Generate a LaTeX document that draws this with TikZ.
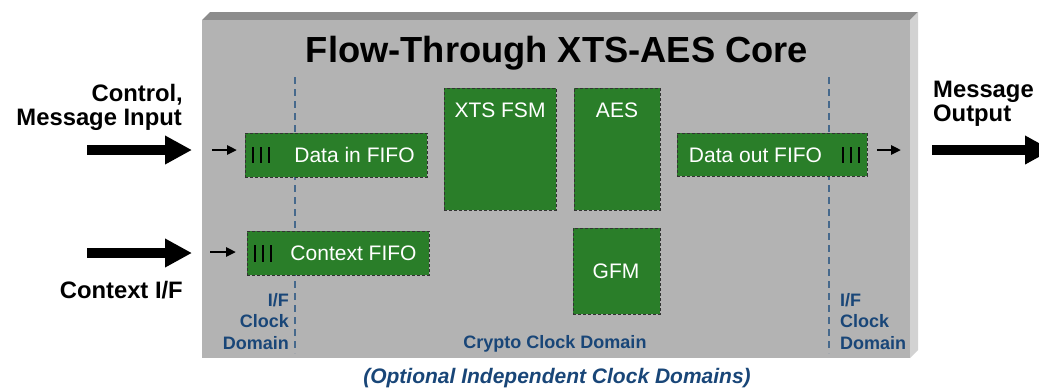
\documentclass[tikz,border=0pt]{standalone}
\usepackage{fontspec}
\setmainfont{Liberation Sans}
\usetikzlibrary{arrows.meta}
\definecolor{boxgreen}{RGB}{42,126,41}
\definecolor{frontgray}{RGB}{179,179,179}
\definecolor{topgray}{RGB}{140,140,140}
\definecolor{sidegray}{RGB}{210,210,210}
\definecolor{domblue}{RGB}{25,70,120}
\definecolor{lineblue}{RGB}{70,105,140}
\begin{document}
\begin{tikzpicture}[x=1pt,y=-1pt,
  greenbox/.style={draw=black!80, line width=0.9pt, dash pattern=on 3pt off 2pt,
    fill=boxgreen, inner sep=0pt, anchor=north west},
  boxtext/.style={text=white, font=\fontsize{21}{24}\selectfont, anchor=base, inner sep=0pt},
  sidelabel/.style={font=\bfseries\fontsize{23.8}{27}\selectfont, inner sep=0pt},
  domlabel/.style={text=domblue, font=\bfseries\fontsize{18}{21}\selectfont, inner sep=0pt},
  domline/.style={draw=lineblue, line width=1.1pt, dash pattern=on 7pt off 5pt},
  fifobar/.style={draw=black, line width=1.2pt},
  bigarrow/.style={line width=10pt, -{Triangle[length=27pt,width=27pt]}},
  smallarrow/.style={line width=2.5pt, -{Triangle[length=10pt,width=9pt]}}]
\useasboundingbox (0,0) rectangle (1039,389);
% 3D core block
\fill[topgray] (202,20) -- (210,12) -- (918,12) -- (910,20) -- cycle;
\fill[sidegray] (910,20) -- (918,12) -- (918,350) -- (910,358) -- cycle;
\fill[frontgray] (202,20) rectangle (910,358);
% clock domain boundaries
\coordinate (dlA) at (295,77); \coordinate (dlB) at (295,353);
\coordinate (drA) at (829,77); \coordinate (drB) at (829,353);
\draw[domline] (dlA) -- (dlB);
\draw[domline] (drA) -- (drB);
% title
\node[anchor=base, font=\bfseries\fontsize{36.3}{40}\selectfont, inner sep=0pt] (title) at (557,62) {Flow-Through XTS-AES Core};
% blocks
\node[greenbox, minimum width=182pt, minimum height=44pt] (din) at (245,133) {};
\node[greenbox, minimum width=182pt, minimum height=44pt] (ctx) at (247,231) {};
\node[greenbox, minimum width=112pt, minimum height=122pt] (fsm) at (444,88) {};
\node[greenbox, minimum width=86pt, minimum height=122pt] (aes) at (574,88) {};
\node[greenbox, minimum width=87pt, minimum height=86pt] (gfm) at (573,228) {};
\node[greenbox, minimum width=190pt, minimum height=43pt] (dout) at (677,133) {};
% block texts
\node[boxtext] (dinT) at (354.5,162) {Data in FIFO};
\node[boxtext] (ctxT) at (353.5,260) {Context FIFO};
\node[boxtext] (fsmT) at (500,117) {XTS FSM};
\node[boxtext] (aesT) at (617,117) {AES};
\node[boxtext] (gfmT) at (616,278) {GFM};
\node[boxtext] (doutT) at (755.5,162) {Data out FIFO};
% FIFO bars
\foreach \x in {253,261,269} \draw[fifobar] (\x,147) -- (\x,163);
\foreach \x in {255,263,271} \draw[fifobar] (\x,245) -- (\x,262);
\foreach \x in {843,851,859} \draw[fifobar] (\x,147) -- (\x,163);
% small arrows
\coordinate (dinIn) at (212,150);
\coordinate (ctxIn) at (210,252);
\coordinate (doutOut) at (901,150);
\draw[smallarrow, shorten >=8pt] (dinIn) -- (dinIn -| din.west);
\draw[smallarrow, shorten >=11pt] (ctxIn) -- (ctxIn -| ctx.west);
\draw[smallarrow, shorten <=9pt] (doutOut -| dout.east) -- (doutOut);
% big arrows
\coordinate (mA) at (87,150); \coordinate (mB) at (192,150);
\coordinate (cA) at (87,253); \coordinate (cB) at (192,253);
\coordinate (oA) at (932,150); \coordinate (oB) at (1052,150);
\draw[bigarrow] (mA) -- (mB);
\draw[bigarrow] (cA) -- (cB);
\draw[bigarrow] (oA) -- (oB);
% outside labels
\node[sidelabel, anchor=base east] (lc1) at (183,101) {Control,};
\node[sidelabel, anchor=base east] (lc2) at (182,125) {Message Input};
\node[sidelabel, anchor=base east] (lctx) at (183,298) {Context I/F};
\node[sidelabel, anchor=base west] (lo1) at (933,97) {Message};
\node[sidelabel, anchor=base west] (lo2) at (933,121) {Output};
% clock domain labels
\node[domlabel, anchor=base east] (dl1) at (289,306) {I/F};
\node[domlabel, anchor=base east] (dl2) at (289,327) {Clock};
\node[domlabel, anchor=base east] (dl3) at (289,349) {Domain};
\node[domlabel, anchor=base west] (dr1) at (840,306) {I/F};
\node[domlabel, anchor=base west] (dr2) at (840,327) {Clock};
\node[domlabel, anchor=base west] (dr3) at (840,349) {Domain};
\node[domlabel, anchor=base] (crypto) at (555,348) {Crypto Clock Domain};
\node[text=domblue, font=\bfseries\itshape\fontsize{21}{24}\selectfont, inner sep=0pt, anchor=base] (opt) at (557,383) {(Optional Independent Clock Domains)};
\end{tikzpicture}
\end{document}
